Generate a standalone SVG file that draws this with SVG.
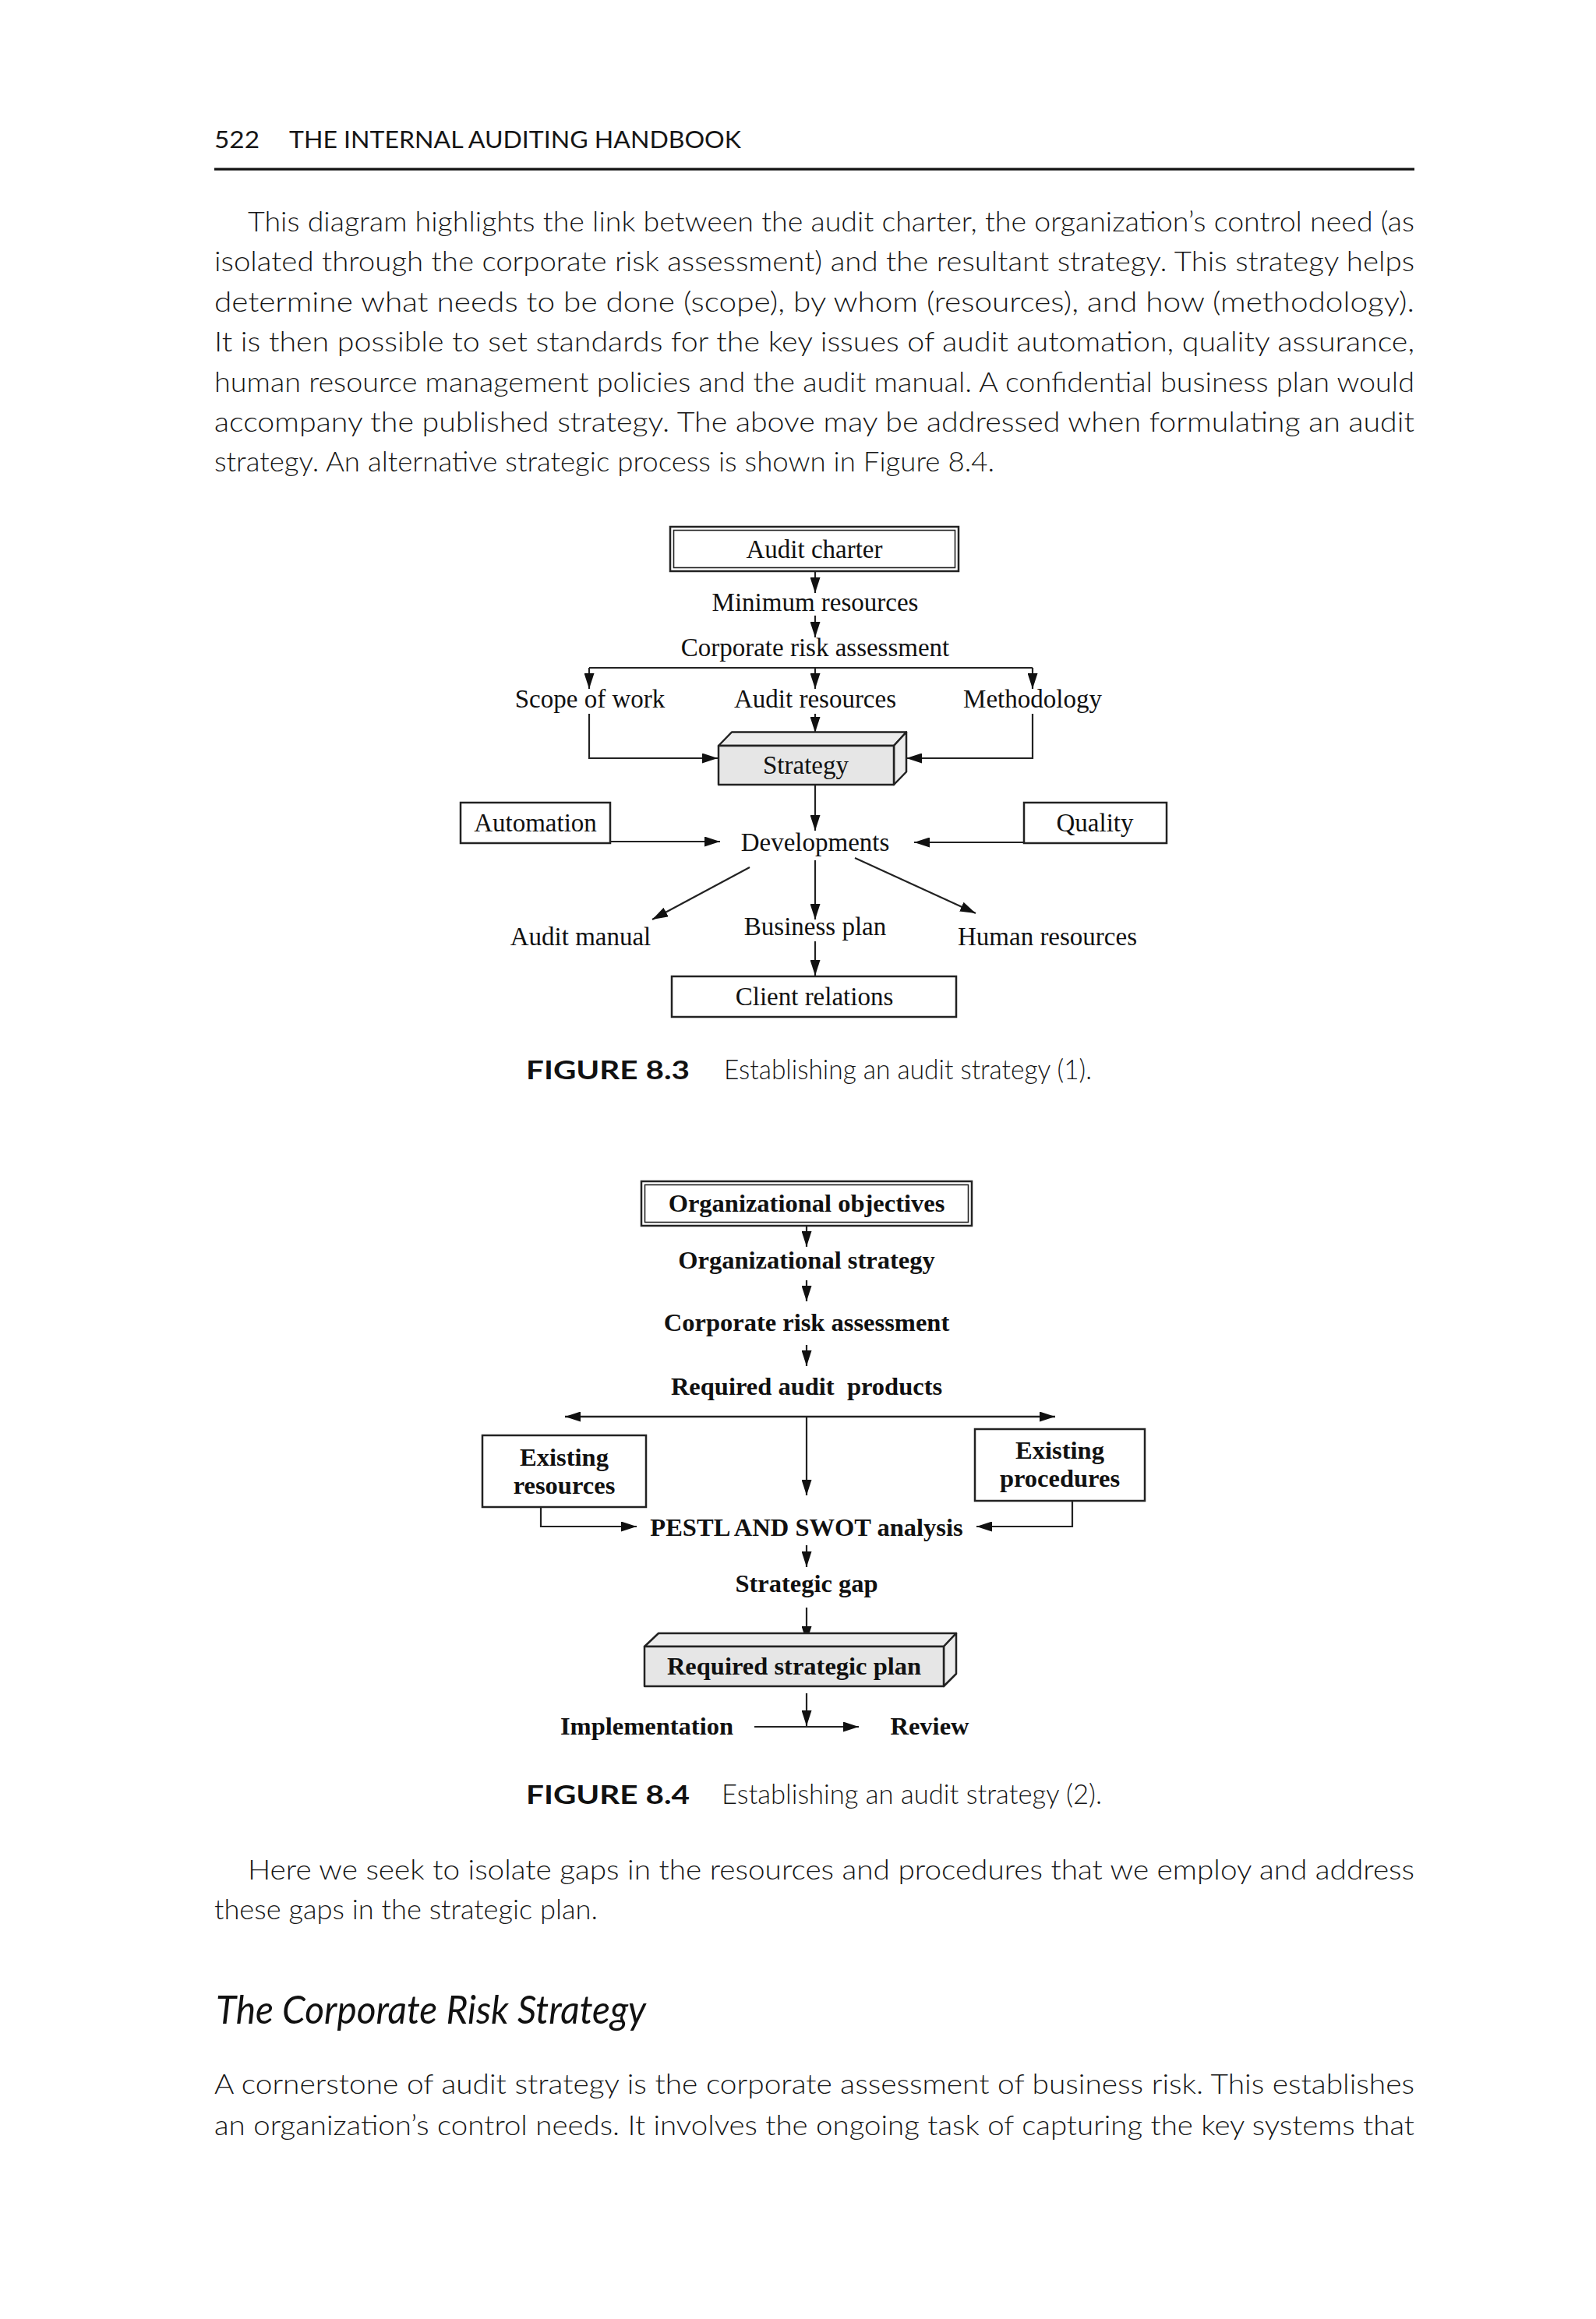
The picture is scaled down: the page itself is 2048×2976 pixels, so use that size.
<svg xmlns="http://www.w3.org/2000/svg" width="2048" height="2976" viewBox="0 0 2048 2976">
<defs>
<style>
.body{font-family:Lato,"Liberation Sans",sans-serif;font-weight:300;font-size:35px;fill:#161616}
.hdr{font-family:Lato,"Liberation Sans",sans-serif;font-weight:400;font-size:31px;fill:#161616}
.head{font-family:Lato,"Liberation Sans",sans-serif;font-style:italic;font-weight:400;font-size:50px;fill:#111}
.capb{font-family:Lato,"Liberation Sans",sans-serif;font-weight:700;font-size:33px;fill:#111}
.capl{font-family:Lato,"Liberation Sans",sans-serif;font-weight:300;font-size:35px;fill:#161616}
.f3{font-family:"Liberation Serif","Times New Roman",serif;font-size:33px;fill:#111;text-anchor:middle}
.f4{font-family:"Liberation Serif","Times New Roman",serif;font-weight:bold;font-size:32.5px;fill:#111;text-anchor:middle}
.box{fill:#fff;stroke:#222;stroke-width:2.5}
.inner{fill:none;stroke:#222;stroke-width:1.6}
.solid{fill:#e6e6e6;stroke:#222;stroke-width:2.5;stroke-linejoin:round}
.solid2{fill:#ececec;stroke:#222;stroke-width:2.5;stroke-linejoin:round}
.ln{fill:none;stroke:#222;stroke-width:2.2}
.arr{fill:none;stroke:#222;stroke-width:2.2;marker-end:url(#ah)}
.dbl{fill:none;stroke:#222;stroke-width:2.5;marker-end:url(#ah);marker-start:url(#ah)}
</style>
<marker id="ah" markerUnits="userSpaceOnUse" markerWidth="21" markerHeight="13" refX="20" refY="6.5" orient="auto-start-reverse">
<path d="M0,0 L20,6.5 L0,13 z" fill="#111"/>
</marker>
</defs>
<rect width="2048" height="2976" fill="#fff"/>

<g id="page-header">
<text class="hdr" x="275" y="190" textLength="58" lengthAdjust="spacingAndGlyphs">522</text>
<text class="hdr" x="371" y="190" textLength="580" lengthAdjust="spacingAndGlyphs">THE INTERNAL AUDITING HANDBOOK</text>
<rect x="275" y="215.5" width="1540" height="3.2" fill="#111"/>
</g>

<g id="para1">
<text class="body" x="318" y="297" textLength="1497" lengthAdjust="spacingAndGlyphs">This diagram highlights the link between the audit charter, the organization’s control need (as</text>
<text class="body" x="275" y="348" textLength="1540" lengthAdjust="spacingAndGlyphs">isolated through the corporate risk assessment) and the resultant strategy. This strategy helps</text>
<text class="body" x="275" y="400" textLength="1540" lengthAdjust="spacingAndGlyphs">determine what needs to be done (scope), by whom (resources), and how (methodology).</text>
<text class="body" x="275" y="451" textLength="1540" lengthAdjust="spacingAndGlyphs">It is then possible to set standards for the key issues of audit automation, quality assurance,</text>
<text class="body" x="275" y="503" textLength="1540" lengthAdjust="spacingAndGlyphs">human resource management policies and the audit manual. A confidential business plan would</text>
<text class="body" x="275" y="554" textLength="1540" lengthAdjust="spacingAndGlyphs">accompany the published strategy. The above may be addressed when formulating an audit</text>
<text class="body" x="275" y="605" textLength="1001" lengthAdjust="spacingAndGlyphs">strategy. An alternative strategic process is shown in Figure 8.4.</text>
</g>

<g id="fig83">
<g id="f3-connectors">
<line class="arr" x1="1046" y1="734" x2="1046" y2="761"/>
<line class="arr" x1="1046" y1="790" x2="1046" y2="818"/>
<line class="ln" x1="756" y1="857" x2="1325" y2="857"/>
<line class="arr" x1="756" y1="857" x2="756" y2="884"/>
<line class="arr" x1="1046" y1="857" x2="1046" y2="884"/>
<line class="arr" x1="1325" y1="857" x2="1325" y2="884"/>
<path class="arr" d="M756 916 V973 H921"/>
<path class="arr" d="M1325 916 V973 H1163"/>
<line class="arr" x1="1046" y1="916" x2="1046" y2="940"/>
<line class="arr" x1="1046" y1="1007" x2="1046" y2="1066"/>
<line class="arr" x1="783" y1="1080" x2="924" y2="1080"/>
<line class="arr" x1="1314" y1="1081" x2="1173" y2="1081"/>
<line class="arr" x1="962" y1="1113" x2="837" y2="1180"/>
<line class="arr" x1="1046" y1="1104" x2="1046" y2="1180"/>
<line class="arr" x1="1097" y1="1101" x2="1252" y2="1172"/>
<line class="arr" x1="1046" y1="1208" x2="1046" y2="1252"/>
</g>
<g id="f3-audit-charter">
<rect class="box" x="860" y="676" width="370" height="57"/>
<rect class="inner" x="864.5" y="680.5" width="361" height="48"/>
<text class="f3" x="1045" y="716">Audit charter</text>
</g>
<g id="f3-minimum-resources"><text class="f3" x="1046" y="784">Minimum resources</text></g>
<g id="f3-corporate-risk"><text class="f3" x="1046" y="842">Corporate risk assessment</text></g>
<g id="f3-scope"><text class="f3" x="757" y="908">Scope of work</text></g>
<g id="f3-audit-resources"><text class="f3" x="1046" y="908">Audit resources</text></g>
<g id="f3-methodology"><text class="f3" x="1325" y="908">Methodology</text></g>
<g id="f3-strategy">
<polygon class="solid2" points="922,957 939,939.5 1163,939.5 1147,957"/>
<polygon class="solid2" points="1147,957 1163,939.5 1163,990.5 1147,1007"/>
<rect class="solid" x="922" y="957" width="225" height="50"/>
<text class="f3" x="1034" y="993">Strategy</text>
</g>
<g id="f3-developments"><text class="f3" x="1046" y="1092">Developments</text></g>
<g id="f3-automation">
<rect class="box" x="591" y="1030" width="192" height="52"/>
<text class="f3" x="687" y="1067">Automation</text>
</g>
<g id="f3-quality">
<rect class="box" x="1314" y="1030" width="183" height="52"/>
<text class="f3" x="1405" y="1067">Quality</text>
</g>
<g id="f3-audit-manual"><text class="f3" x="745" y="1213">Audit manual</text></g>
<g id="f3-business-plan"><text class="f3" x="1046" y="1200">Business plan</text></g>
<g id="f3-human-resources"><text class="f3" x="1344" y="1213">Human resources</text></g>
<g id="f3-client-relations">
<rect class="box" x="862" y="1253" width="365" height="52"/>
<text class="f3" x="1045" y="1290">Client relations</text>
</g>
<g id="f3-caption">
<text class="capb" x="675" y="1385" textLength="210" lengthAdjust="spacingAndGlyphs">FIGURE 8.3</text>
<text class="capl" x="929" y="1385" textLength="472" lengthAdjust="spacingAndGlyphs">Establishing an audit strategy (1).</text>
</g>
</g>

<g id="fig84">
<g id="f4-connectors">
<line class="arr" x1="1035" y1="1574" x2="1035" y2="1600"/>
<line class="arr" x1="1035" y1="1643" x2="1035" y2="1670"/>
<line class="arr" x1="1035" y1="1726" x2="1035" y2="1753"/>
<line class="dbl" x1="725" y1="1818" x2="1354" y2="1818"/>
<line class="arr" x1="1035" y1="1818" x2="1035" y2="1919"/>
<path class="arr" d="M694 1934 V1959 H817"/>
<path class="arr" d="M1376 1926 V1959 H1253"/>
<line class="arr" x1="1035" y1="1983" x2="1035" y2="2011"/>
<line class="arr" x1="1035" y1="2063" x2="1035" y2="2107"/>
<line class="arr" x1="1035" y1="2173" x2="1035" y2="2215"/>
<line class="arr" x1="968" y1="2216" x2="1102" y2="2216"/>
</g>
<g id="f4-org-objectives">
<rect class="box" x="823" y="1516" width="424" height="57"/>
<rect class="inner" x="827.5" y="1520.5" width="415" height="48"/>
<text class="f4" x="1035" y="1555">Organizational objectives</text>
</g>
<g id="f4-org-strategy"><text class="f4" x="1035" y="1628">Organizational strategy</text></g>
<g id="f4-corporate-risk"><text class="f4" x="1035" y="1708">Corporate risk assessment</text></g>
<g id="f4-required-products"><text class="f4" x="1035" y="1790" xml:space="preserve">Required audit  products</text></g>
<g id="f4-existing-resources">
<rect class="box" x="619" y="1842" width="210" height="92"/>
<text class="f4" x="724" y="1881">Existing</text>
<text class="f4" x="724" y="1917">resources</text>
</g>
<g id="f4-existing-procedures">
<rect class="box" x="1251" y="1834" width="218" height="92"/>
<text class="f4" x="1360" y="1872">Existing</text>
<text class="f4" x="1360" y="1908">procedures</text>
</g>
<g id="f4-pestl"><text class="f4" x="1035" y="1971">PESTL AND SWOT analysis</text></g>
<g id="f4-strategic-gap"><text class="f4" x="1035" y="2043">Strategic gap</text></g>
<g id="f4-strategic-plan">
<polygon class="solid2" points="827,2113 845,2096 1227,2096 1211,2113"/>
<polygon class="solid2" points="1211,2113 1227,2096 1227,2148 1211,2164"/>
<rect class="solid" x="827" y="2113" width="384" height="51"/>
<text class="f4" x="1019" y="2149">Required strategic plan</text>
</g>
<g id="f4-implementation"><text class="f4" x="830" y="2226">Implementation</text></g>
<g id="f4-review"><text class="f4" x="1193" y="2226">Review</text></g>
<g id="f4-caption">
<text class="capb" x="675" y="2315" textLength="210" lengthAdjust="spacingAndGlyphs">FIGURE 8.4</text>
<text class="capl" x="926" y="2315" textLength="488" lengthAdjust="spacingAndGlyphs">Establishing an audit strategy (2).</text>
</g>
</g>

<g id="para2">
<text class="body" x="318" y="2412" textLength="1497" lengthAdjust="spacingAndGlyphs">Here we seek to isolate gaps in the resources and procedures that we employ and address</text>
<text class="body" x="275" y="2463" textLength="492" lengthAdjust="spacingAndGlyphs">these gaps in the strategic plan.</text>
</g>
<g id="heading">
<text class="head" x="277" y="2597" textLength="552" lengthAdjust="spacingAndGlyphs">The Corporate Risk Strategy</text>
</g>
<g id="para3">
<text class="body" x="275" y="2687" textLength="1540" lengthAdjust="spacingAndGlyphs">A cornerstone of audit strategy is the corporate assessment of business risk. This establishes</text>
<text class="body" x="275" y="2740" textLength="1540" lengthAdjust="spacingAndGlyphs">an organization’s control needs. It involves the ongoing task of capturing the key systems that</text>
</g>
</svg>
